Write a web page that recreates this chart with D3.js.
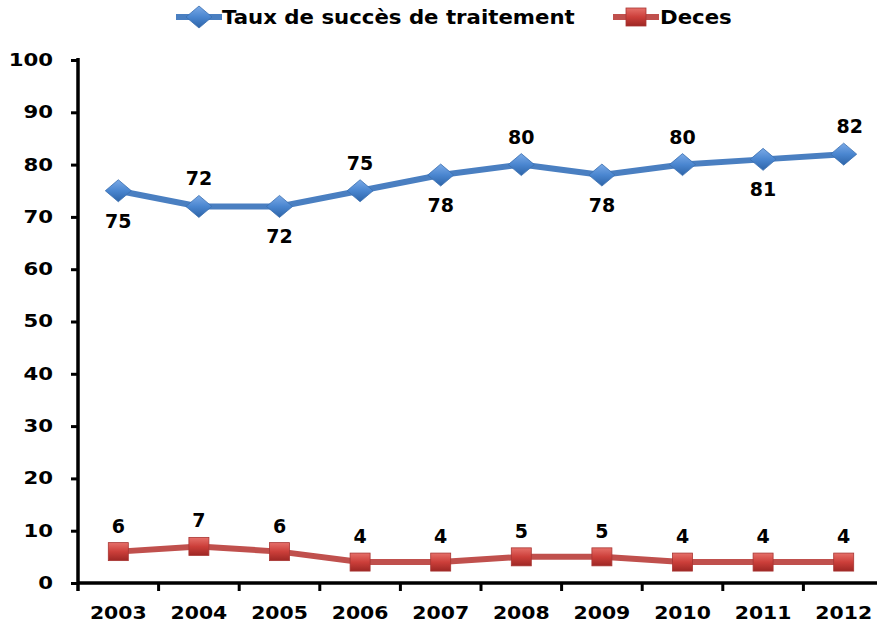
<!DOCTYPE html>
<html>
<head>
<meta charset="utf-8">
<script src="https://cdn.jsdelivr.net/npm/d3@7"></script>
<style>
  body { margin: 0; background: #fff; }
  svg text { font-family: "DejaVu Sans", Verdana, sans-serif; font-weight: bold; fill: #000; }
</style>
</head>
<body>
<svg width="877" height="625"></svg>
<script>
const years = ['2003', '2004', '2005', '2006', '2007', '2008', '2009', '2010', '2011', '2012'];
const succes = [75, 72, 72, 75, 78, 80, 78, 80, 81, 82];
const deces = [6, 7, 6, 4, 4, 5, 5, 4, 4, 4];
// label placement for the blue series: 1 = above, -1 = below
const succesLabelPos = [-1, 1, -1, 1, -1, 1, -1, 1, -1, 1];
const yTicks = [0, 10, 20, 30, 40, 50, 60, 70, 80, 90, 100];

const w = 877;
const h = 625;
const plotLeft = 78;
const plotTop = 60;
const plotBottom = 583;

const canvas = d3.select('svg');
const defs = canvas.append('defs');

const blueGrad = defs.append('linearGradient').attr('id', 'blueGrad')
  .attr('x1', 0).attr('y1', 0).attr('x2', 0).attr('y2', 1);
blueGrad.append('stop').attr('offset', '0%').attr('stop-color', '#7aa9e6');
blueGrad.append('stop').attr('offset', '50%').attr('stop-color', '#4a86d0');
blueGrad.append('stop').attr('offset', '100%').attr('stop-color', '#2d64a8');

const redGrad = defs.append('linearGradient').attr('id', 'redGrad')
  .attr('x1', 0).attr('y1', 0).attr('x2', 0).attr('y2', 1);
redGrad.append('stop').attr('offset', '0%').attr('stop-color', '#e6706a');
redGrad.append('stop').attr('offset', '50%').attr('stop-color', '#cc3f3a');
redGrad.append('stop').attr('offset', '100%').attr('stop-color', '#9e2724');

// the original text is a bit wider than the font, stretch it around its x
const stretch = (sel, s) => {
  sel.each(function () {
    const x = +this.getAttribute('x') || 0;
    d3.select(this).attr('transform', `translate(${x},0) scale(${s},1) translate(${-x},0)`);
  });
};

const xScale = d3.scaleBand().domain(years).range([plotLeft, plotLeft + 80.6 * years.length]);
const yScale = d3.scaleLinear().domain([0, 100]).range([plotBottom, plotTop]);
const cx = (d) => xScale(d) + xScale.bandwidth() / 2;

// axes
const yAxis = d3.axisLeft(yScale).tickValues(yTicks).tickSize(7).tickPadding(18);
const gy = canvas.append('g').attr('transform', `translate(${plotLeft},0)`).call(yAxis);
gy.select('.domain').remove();
gy.selectAll('.tick line').attr('stroke', '#000').attr('stroke-width', 3);
gy.selectAll('text').attr('font-size', 17);
stretch(gy.selectAll('text'), 1.25);
canvas.append('line')
  .attr('x1', plotLeft).attr('x2', plotLeft).attr('y1', plotTop - 2).attr('y2', plotBottom + 8)
  .attr('stroke', '#000').attr('stroke-width', 3.5);

const xAxis = d3.axisBottom(xScale).tickSize(0).tickPadding(24);
const gx = canvas.append('g').attr('transform', `translate(0,${plotBottom})`).call(xAxis);
gx.select('.domain').remove();
gx.selectAll('text').attr('font-size', 17);
stretch(gx.selectAll('text'), 1.2);
canvas.append('line')
  .attr('x1', plotLeft).attr('x2', w).attr('y1', plotBottom).attr('y2', plotBottom)
  .attr('stroke', '#000').attr('stroke-width', 3.5);
canvas.append('g').selectAll('line')
  .data(years.slice(1))
  .enter().append('line')
  .attr('x1', (d) => xScale(d)).attr('x2', (d) => xScale(d))
  .attr('y1', plotBottom).attr('y2', plotBottom + 8)
  .attr('stroke', '#000').attr('stroke-width', 3);

// lines
const line = d3.line().x((d, i) => cx(years[i])).y((d) => yScale(d));

canvas.append('path').datum(succes).attr('d', line)
  .attr('fill', 'none').attr('stroke', '#4a7fc1').attr('stroke-width', 6).attr('stroke-linejoin', 'round');
canvas.append('path').datum(deces).attr('d', line)
  .attr('fill', 'none').attr('stroke', '#c0504d').attr('stroke-width', 6).attr('stroke-linejoin', 'round');

const diamond = (x, y) => `M${x - 13},${y} L${x},${y - 11} L${x + 13},${y} L${x},${y + 11} Z`;

canvas.append('g').selectAll('path')
  .data(succes).enter().append('path')
  .attr('d', (d, i) => diamond(cx(years[i]), yScale(d)))
  .attr('fill', 'url(#blueGrad)').attr('stroke', '#3a6eb0').attr('stroke-width', 0.8);

canvas.append('g').selectAll('rect')
  .data(deces).enter().append('rect')
  .attr('x', (d, i) => cx(years[i]) - 10).attr('y', (d) => yScale(d) - 9)
  .attr('width', 20).attr('height', 18)
  .attr('fill', 'url(#redGrad)').attr('stroke', '#a83532').attr('stroke-width', 0.8);

// value labels
canvas.append('g').selectAll('text')
  .data(succes).enter().append('text')
  .attr('x', (d, i) => cx(years[i]) + (i === years.length - 1 ? 6 : 0))
  .attr('y', (d, i) => yScale(d) + (succesLabelPos[i] > 0 ? -21 : 37))
  .attr('text-anchor', 'middle').attr('font-size', 19)
  .text((d) => d);

canvas.append('g').selectAll('text')
  .data(deces).enter().append('text')
  .attr('x', (d, i) => cx(years[i]))
  .attr('y', (d) => yScale(d) - 19)
  .attr('text-anchor', 'middle').attr('font-size', 19)
  .text((d) => d);

// legend
const legend = canvas.append('g');
legend.append('line').attr('x1', 176).attr('x2', 222).attr('y1', 17).attr('y2', 17)
  .attr('stroke', '#4a7fc1').attr('stroke-width', 6);
legend.append('path').attr('d', diamond(199, 17)).attr('fill', 'url(#blueGrad)')
  .attr('stroke', '#3a6eb0').attr('stroke-width', 0.8);
legend.append('line').attr('x1', 613).attr('x2', 659).attr('y1', 17).attr('y2', 17)
  .attr('stroke', '#c0504d').attr('stroke-width', 6);
legend.append('rect').attr('x', 626).attr('y', 8).attr('width', 20).attr('height', 18)
  .attr('fill', 'url(#redGrad)').attr('stroke', '#a83532').attr('stroke-width', 0.8);

const legendText = legend.selectAll('text.lbl')
  .data([['Taux de succès de traitement', 222], ['Deces', 660]])
  .enter().append('text').attr('class', 'lbl')
  .attr('x', (d) => d[1]).attr('y', 24).attr('font-size', 19)
  .text((d) => d[0]);
stretch(legendText, 1.12);
</script>
</body>
</html>
